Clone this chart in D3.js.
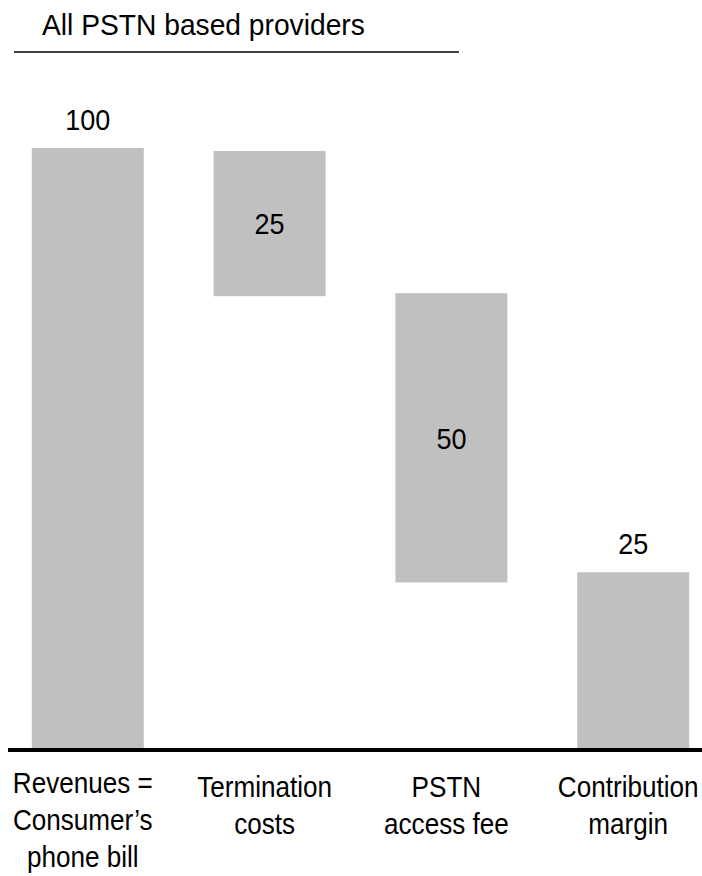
<!DOCTYPE html>
<html>
<head>
<meta charset="utf-8">
<script src="https://cdn.jsdelivr.net/npm/d3@7"></script>
<style>
  html, body { margin: 0; padding: 0; background: #fff; }
  svg { display: block; }
  text { font-family: "Liberation Sans Narrow", "Arial Narrow", "Liberation Sans", Arial, sans-serif; fill: #000; }
</style>
</head>
<body>
<svg id="chart" width="702" height="876"></svg>
<script>
// ---- data ----
const title = "All PSTN based providers";
const categories = ["Revenues", "Termination", "PSTN", "Contribution"];
const categoryLines = [
  ["Revenues =", "Consumer\u2019s", "phone bill"],
  ["Termination", "costs"],
  ["PSTN", "access fee"],
  ["Contribution", "margin"]
];
const values = [100, 25, 50, 25];              // printed labels
const barTop = [100, 99.5, 75.8, 29.3];        // upper end of each bar
const barBottom = [0, 75.3, 27.6, 0];          // lower end of each bar
const labelInside = [false, true, true, false];

// ---- layout ----
const W = 702, H = 876;
const baseY = 748;
const condense = 0.9;
const svg = d3.select("#chart");

// condensed text helper
function ctext(parent, x, y, anchor, size, sx) {
  return parent.append("g")
    .attr("transform", `translate(${x},${y}) scale(${sx},1)`)
    .append("text")
    .attr("text-anchor", anchor)
    .attr("font-size", size);
}

const x = d3.scaleBand()
  .domain(categories)
  .range([31.8, 689.2])
  .paddingInner(0.384)
  .paddingOuter(0);

const y = d3.scaleLinear()
  .domain([0, 100])
  .range([baseY, 148]);

// title
ctext(svg, 42, 35, "start", 30, 0.94).text(title);

svg.append("line")
  .attr("x1", 14).attr("x2", 459)
  .attr("y1", 52).attr("y2", 52)
  .attr("stroke", "#000")
  .attr("stroke-width", 1.6);

// bars
const data = categories.map((c, i) => ({
  c, v: values[i], top: barTop[i], bottom: barBottom[i], inside: labelInside[i], lines: categoryLines[i]
}));

svg.append("g").selectAll("rect")
  .data(data)
  .join("rect")
  .attr("x", d => x(d.c))
  .attr("width", x.bandwidth())
  .attr("y", d => y(d.top))
  .attr("height", d => y(d.bottom) - y(d.top))
  .attr("fill", "#c0c0c0");

// value labels
const valG = svg.append("g");
data.forEach(d => {
  const cx = x(d.c) + x.bandwidth() / 2;
  const cy = d.inside ? (y(d.top) + y(d.bottom)) / 2 : y(d.top) - 18;
  ctext(valG, cx, cy, "middle", 30, condense)
    .attr("dy", d.inside ? "0.36em" : null)
    .text(d.v);
});

// baseline
svg.append("line")
  .attr("x1", 8).attr("x2", W)
  .attr("y1", baseY + 2).attr("y2", baseY + 2)
  .attr("stroke", "#000")
  .attr("stroke-width", 4);

// category labels
const catG = svg.append("g");
data.forEach(d => {
  const n = d.lines.length;
  const startY = n === 3 ? 793 : 797;
  const t = ctext(catG, x(d.c) + x.bandwidth() / 2 - 5, startY, "middle", 29, condense);
  d.lines.forEach((ln, j) => {
    t.append("tspan")
      .attr("x", 0)
      .attr("y", j * 37)
      .text(ln);
  });
});
</script>
</body>
</html>
